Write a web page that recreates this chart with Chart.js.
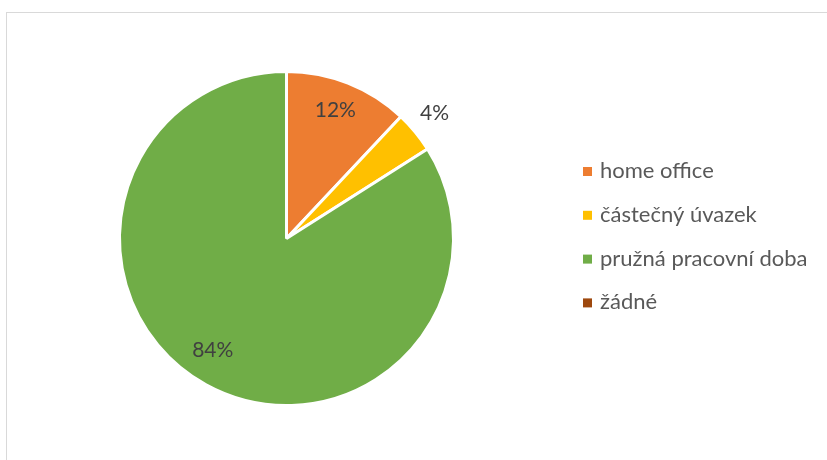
<!DOCTYPE html>
<html>
<head>
<meta charset="utf-8">
<script src="https://cdn.jsdelivr.net/npm/chart.js@4/dist/chart.umd.min.js"></script>
<style>
html,body{margin:0;padding:0;background:#fff;}
#wrap{position:relative;width:827px;height:460px;}
#frame{position:absolute;left:6px;top:12px;width:830px;height:460px;border-top:1px solid #d9d9d9;border-left:1px solid #d9d9d9;box-sizing:border-box;}
canvas{position:absolute;left:0;top:0;}
</style>
</head>
<body>
<div id="wrap">
<div id="frame"></div>
<canvas id="c" width="827" height="460"></canvas>
</div>
<script>
const categories = ["home office", "částečný úvazek", "pružná pracovní doba", "žádné"];
const values = [12, 4, 84, 0];
const colors = ["#ED7D31", "#FFC000", "#70AD47", "#9E480E"];
const labelRadius = [0.82, 1.16, 0.80];
const labelShiftDeg = [-0.7, -0.6, 4.7];
const FONT = "Lato, 'Open Sans', sans-serif";

const labelPlugin = {
  id: 'sliceLabels',
  afterDatasetsDraw(chart) {
    const ctx = chart.ctx;
    const meta = chart.getDatasetMeta(0);
    const total = values.reduce((a, b) => a + b, 0);
    ctx.save();
    ctx.fillStyle = '#404040';
    ctx.font = '21px ' + FONT;
    ctx.textAlign = 'center';
    ctx.textBaseline = 'middle';
    meta.data.forEach((arc, i) => {
      if (!values[i]) return;
      const p = arc.getProps(['x', 'y', 'startAngle', 'endAngle', 'outerRadius'], true);
      const mid = (p.startAngle + p.endAngle) / 2 + (labelShiftDeg[i] || 0) * Math.PI / 180;
      const r = p.outerRadius * (labelRadius[i] || 0.8);
      const x = p.x + Math.cos(mid) * r;
      const y = p.y + Math.sin(mid) * r;
      ctx.fillText(Math.round(values[i] / total * 100) + '%', x, y);
    });
    ctx.restore();
  }
};

const legendPlugin = {
  id: 'fixedLegend',
  afterDraw(chart) {
    const ctx = chart.ctx;
    ctx.save();
    ctx.font = '22px ' + FONT;
    ctx.textBaseline = 'alphabetic';
    ctx.textAlign = 'left';
    categories.forEach((c, i) => {
      const base = 178 + i * 43.8;
      ctx.fillStyle = colors[i];
      ctx.fillRect(583, base - 11, 9, 9);
      ctx.fillStyle = '#595959';
      ctx.fillText(c, 600, base);
    });
    ctx.restore();
  }
};

new Chart(document.getElementById('c'), {
  type: 'pie',
  data: {
    labels: categories,
    datasets: [{
      data: values,
      backgroundColor: colors,
      borderColor: '#ffffff',
      borderWidth: 3
    }]
  },
  options: {
    responsive: false,
    animation: false,
    layout: { padding: { left: 118, top: 70, right: 372, bottom: 53 } },
    plugins: { legend: { display: false }, tooltip: { enabled: false } }
  },
  plugins: [labelPlugin, legendPlugin]
});
</script>
</body>
</html>
